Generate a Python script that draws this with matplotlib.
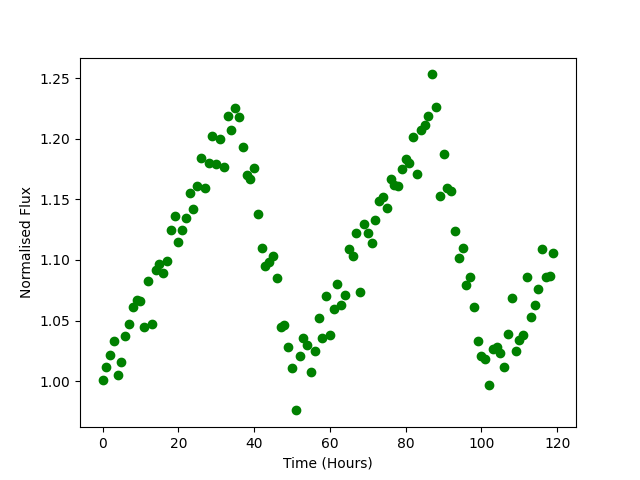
import numpy as np
import matplotlib
matplotlib.use("Agg")
import matplotlib.pyplot as plt

# hourly samples
time = np.arange(0, 120)

flux = [1.001, 1.012, 1.022, 1.033, 1.005, 1.016, 1.037, 1.047, 1.061, 1.067,
        1.066, 1.045, 1.083, 1.047, 1.092, 1.097, 1.089, 1.099, 1.125, 1.136,
        1.115, 1.125, 1.135, 1.155, 1.142, 1.161, 1.184, 1.159, 1.180, 1.202,
        1.179, 1.200, 1.177, 1.219, 1.207, 1.225, 1.218, 1.193, 1.170, 1.167,
        1.176, 1.138, 1.110, 1.095, 1.098, 1.103, 1.085, 1.045, 1.046, 1.028,
        1.011, 0.976, 1.021, 1.036, 1.030, 1.008, 1.025, 1.052, 1.036, 1.070,
        1.038, 1.060, 1.080, 1.063, 1.071, 1.109, 1.103, 1.122, 1.074, 1.130,
        1.122, 1.114, 1.133, 1.149, 1.152, 1.143, 1.167, 1.162, 1.161, 1.175,
        1.183, 1.180, 1.201, 1.171, 1.207, 1.211, 1.219, 1.253, 1.226, 1.153,
        1.187, 1.159, 1.157, 1.124, 1.102, 1.110, 1.079, 1.086, 1.061, 1.033,
        1.021, 1.018, 0.997, 1.027, 1.028, 1.023, 1.012, 1.039, 1.069, 1.025,
        1.034, 1.038, 1.086, 1.053, 1.063, 1.076, 1.109, 1.086, 1.087, 1.106]

plt.figure(figsize=(6.4, 4.8), dpi=100)
plt.plot(time, flux, 'go')
plt.xlabel('Time (Hours)')
plt.ylabel('Normalised Flux')
plt.savefig('out.png')
